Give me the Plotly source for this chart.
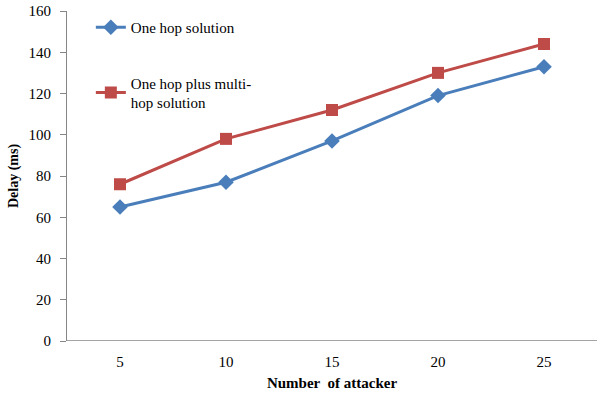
import plotly.graph_objects as go

attackers = ["5", "10", "15", "20", "25"]
one_hop = [65, 77, 97, 119, 133]
one_hop_multi = [76, 98, 112, 130, 144]
y_ticks = [0, 20, 40, 60, 80, 100, 120, 140, 160]

BLUE = "#4A7EBB"
RED = "#BE4B48"
FONT = "Liberation Serif"

fig = go.Figure()
fig.add_trace(go.Scatter(
    x=attackers, y=one_hop, mode="lines+markers", name="One hop solution",
    line=dict(color=BLUE, width=3),
    marker=dict(symbol="diamond", size=12, color=BLUE),
    legendgroup="a",
))
fig.add_trace(go.Scatter(
    x=attackers, y=one_hop_multi, mode="lines+markers",
    name="One hop plus multi-<br>hop solution",
    line=dict(color=RED, width=3),
    marker=dict(symbol="square", size=12, color=RED),
    legendgroup="b",
))

fig.update_layout(
    width=600, height=396,
    margin=dict(l=67, r=3, t=11, b=55, autoexpand=False),
    paper_bgcolor="white", plot_bgcolor="white",
    font=dict(family=FONT, size=15, color="black"),
    showlegend=True,
    legend=dict(x=0.045, y=1.0, xanchor="left", yanchor="top",
                bgcolor="rgba(0,0,0,0)", tracegroupgap=33,
                font=dict(family=FONT, size=15, color="black"),
                itemwidth=30),
    xaxis=dict(
        type="category", range=[-0.5, 4.5],
        showgrid=False, zeroline=False, automargin=False,
        showline=False, ticks="",
        tickfont=dict(family=FONT, size=15),
        ticklabelstandoff=10,
        title=dict(text="<b>Number  of attacker</b>", font=dict(family=FONT, size=15), standoff=8),
    ),
    yaxis=dict(
        range=[0, 160], tickvals=y_ticks, showgrid=False, zeroline=False,
        automargin=False,
        showline=True, linecolor="#868686", linewidth=1,
        ticks="outside", ticklen=6, tickcolor="#868686",
        tickfont=dict(family=FONT, size=15),
        ticklabelstandoff=6,
        title=dict(text="<b>Delay (ms)</b>", font=dict(family=FONT, size=14), standoff=6),
    ),
)
fig.add_shape(type="line", xref="paper", yref="y", x0=0, x1=1, y0=0, y1=0,
              line=dict(color="#868686", width=1.5), layer="below")

fig.write_html("out.html",
               config={"displayModeBar": False},
               post_script="document.body.style.margin='0px';document.body.style.padding='0px';")
